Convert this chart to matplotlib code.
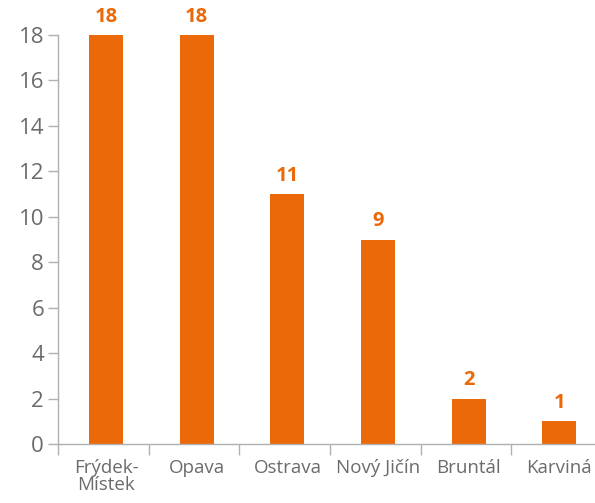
import matplotlib.pyplot as plt
import numpy as np

# Data
categories = ['Frýdek-\nMístek', 'Opava', 'Ostrava', 'Nový Jičín', 'Bruntál', 'Karviná']
values = [18, 18, 11, 9, 2, 1]
yticks = [0, 2, 4, 6, 8, 10, 12, 14, 16, 18]

orange = '#EB6909'
grey_text = '#6b6b6b'
grey_line = '#b0b0b0'

plt.rcParams['font.family'] = ['Open Sans', 'DejaVu Sans']

fig = plt.figure(figsize=(5.95, 5.03), dpi=100)
ax = fig.add_axes([58 / 595, 59 / 503, 544 / 595, 409 / 503])

x = np.arange(len(categories))
bars = ax.bar(x + 0.03, values, width=0.375, color=orange)

for xi, v in zip(x, values):
    ax.annotate(str(v), (xi + 0.03, v), xytext=(0, 6), textcoords='offset points',
                ha='center', va='bottom', color=orange, fontsize=14.5,
                fontweight='bold', annotation_clip=False)

ax.set_xlim(-0.5, len(categories) - 0.5)
ax.set_ylim(0, 18)
ax.set_yticks(yticks)
ax.set_xticks(x + 0.03)
ax.set_xticklabels(categories, linespacing=0.9)
ax.set_xticks(np.arange(len(categories) + 1) - 0.5, minor=True)

for side in ['top', 'right']:
    ax.spines[side].set_visible(False)
for side in ['left', 'bottom']:
    ax.spines[side].set_color(grey_line)
    ax.spines[side].set_linewidth(1)

ax.tick_params(axis='y', colors=grey_line, labelcolor=grey_text, labelsize=16,
               length=7, width=1, pad=3)
ax.tick_params(axis='x', which='major', length=0, labelcolor=grey_text,
               labelsize=13.5, pad=11)
ax.tick_params(axis='x', which='minor', length=8, width=1, colors=grey_line)

plt.savefig('out.png', dpi=100)
